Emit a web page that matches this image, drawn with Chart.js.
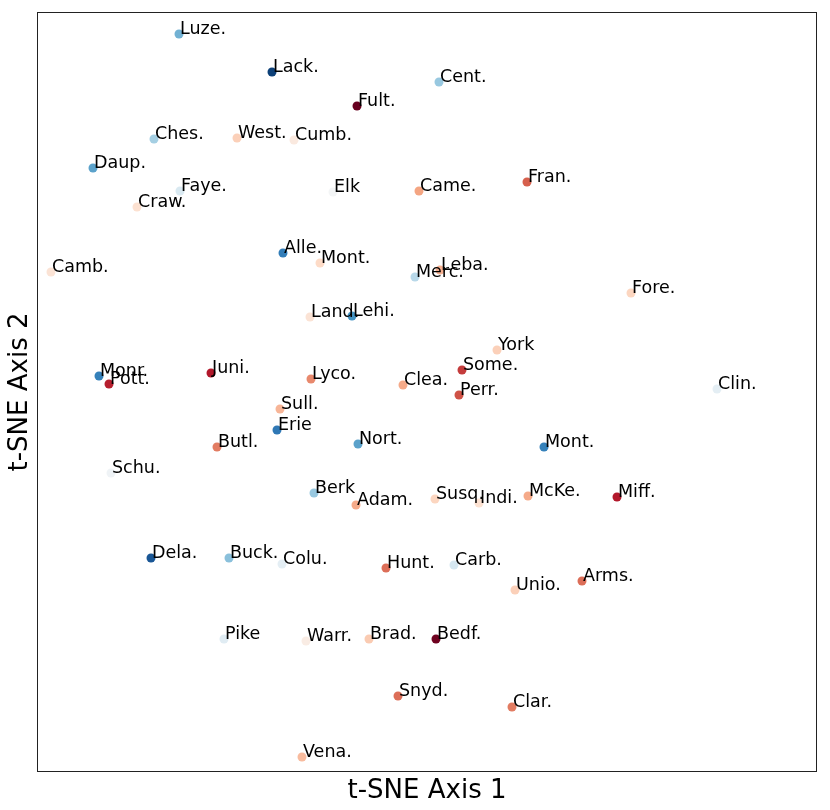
<!DOCTYPE html>
<html>
<head>
<meta charset="utf-8">
<script src="https://cdn.jsdelivr.net/npm/chart.js@4.4.1/dist/chart.umd.min.js"></script>
<style>
    html, body { margin: 0; padding: 0; background: #fff; }
    #wrap { width: 830px; height: 810px; }
</style>
</head>
<body>
<div id="wrap"><canvas id="chartTsne" width="830" height="810"></canvas></div>
<script>
// t-SNE embedding of counties, colour = value on the RdBu scale (0 = red, 1 = blue)
const names = ['Luze.', 'Lack.', 'Cent.', 'Fult.', 'Ches.', 'West.', 'Cumb.', 'Daup.', 'Fran.', 'Came.',
    'Elk', 'Faye.', 'Craw.', 'Camb.', 'Alle.', 'Mont.', 'Merc.', 'Leba.', 'Fore.', 'Land.',
    'Lehi.', 'York', 'Some.', 'Juni.', 'Monr.', 'Pott.', 'Lyco.', 'Clea.', 'Perr.', 'Clin.',
    'Sull.', 'Erie', 'Butl.', 'Nort.', 'Mont.', 'Schu.', 'Berk', 'Adam.', 'Susq.', 'Indi.',
    'McKe.', 'Miff.', 'Dela.', 'Buck.', 'Colu.', 'Hunt.', 'Carb.', 'Unio.', 'Arms.', 'Pike',
    'Warr.', 'Brad.', 'Bedf.', 'Snyd.', 'Clar.', 'Vena.'];

const axis1 = [-24.8, -15.5, 1.2, -7.0, -27.3, -19.0, -13.3, -33.4, 10.0, -0.8,
    -9.4, -24.7, -29.0, -37.6, -14.4, -10.7, -1.2, 1.3, 20.4, -11.7,
    -7.5, 7.0, 3.5, -21.6, -32.8, -31.8, -11.6, -2.4, 3.2, 29.0,
    -14.7, -15.0, -21.0, -6.9, 11.7, -31.6, -11.3, -7.1, 0.8, 5.2,
    10.1, 19.0, -27.6, -19.8, -14.5, -4.1, 2.7, 8.8, 15.5, -20.3,
    -12.1, -5.8, 0.9, -2.9, 8.5, -12.5];

const axis2 = [35.8, 32.0, 31.0, 28.6, 25.3, 25.4, 25.2, 22.4, 21.0, 20.1,
    20.0, 20.1, 18.5, 12.0, 13.9, 12.9, 11.5, 12.2, 9.9, 7.5,
    7.6, 4.2, 2.2, 1.9, 1.6, 0.8, 1.3, 0.7, -0.3, 0.3,
    -1.7, -3.8, -5.5, -5.2, -5.5, -8.1, -10.1, -11.3, -10.7, -11.1,
    -10.4, -10.5, -16.6, -16.6, -17.2, -17.6, -17.3, -19.8, -18.9, -24.7,
    -24.9, -24.7, -24.7, -30.4, -31.5, -36.5];

const colorValue = [0.74, 0.97, 0.69, 0.0, 0.67, 0.38, 0.45, 0.77, 0.2, 0.3,
    0.51, 0.58, 0.42, 0.43, 0.85, 0.40, 0.64, 0.32, 0.39, 0.43,
    0.8, 0.38, 0.15, 0.1, 0.84, 0.11, 0.26, 0.31, 0.18, 0.55,
    0.33, 0.86, 0.24, 0.77, 0.84, 0.52, 0.69, 0.31, 0.39, 0.42,
    0.31, 0.1, 0.93, 0.71, 0.55, 0.22, 0.59, 0.38, 0.22, 0.56,
    0.46, 0.37, 0.01, 0.22, 0.24, 0.34];

const rdbu = ['#67001f', '#b2182b', '#d6604d', '#f4a582', '#fddbc7', '#f7f7f7',
    '#d1e5f0', '#92c5de', '#4393c3', '#2166ac', '#053061'];

function hexToRgb(h) {
    return [parseInt(h.slice(1, 3), 16), parseInt(h.slice(3, 5), 16), parseInt(h.slice(5, 7), 16)];
}

function rdbuColor(v) {
    const t = Math.min(Math.max(v, 0), 1) * (rdbu.length - 1);
    const i = Math.min(Math.floor(t), rdbu.length - 2);
    const f = t - i;
    const a = hexToRgb(rdbu[i]);
    const b = hexToRgb(rdbu[i + 1]);
    const c = a.map((x, k) => Math.round(x + (b[k] - x) * f));
    return 'rgb(' + c.join(',') + ')';
}

const points = axis1.map((x, i) => ({ x: x, y: axis2[i] }));

// labels, frame and axis titles drawn in matplotlib style
const annotatePlugin = {
    id: 'annotate',
    afterDatasetsDraw(chart) {
        const ctx = chart.ctx;
        const meta = chart.getDatasetMeta(0);
        const area = chart.chartArea;
        ctx.save();
        ctx.fillStyle = '#000';
        ctx.font = '17.5px "DejaVu Sans"';
        ctx.textAlign = 'left';
        ctx.textBaseline = 'alphabetic';
        meta.data.forEach((pt, i) => {
            ctx.fillText(names[i], pt.x + 1, pt.y);
        });

        ctx.strokeStyle = '#222';
        ctx.lineWidth = 1;
        ctx.strokeRect(area.left + 0.5, area.top + 0.5, area.right - area.left - 1, area.bottom - area.top - 1);

        ctx.font = '26px "DejaVu Sans"';
        ctx.textAlign = 'center';
        ctx.textBaseline = 'alphabetic';
        ctx.fillText('t-SNE Axis 1', (area.left + area.right) / 2, area.bottom + 26);

        ctx.translate(area.left - 10, (area.top + area.bottom) / 2);
        ctx.rotate(-Math.PI / 2);
        ctx.fillText('t-SNE Axis 2', 0, 0);
        ctx.restore();
    }
};

const ctxTsne = document.getElementById('chartTsne');
if (ctxTsne) {
    new Chart(ctxTsne, {
        type: 'scatter',
        data: {
            datasets: [{
                data: points,
                backgroundColor: colorValue.map(rdbuColor),
                borderWidth: 0,
                pointRadius: 4.5,
                pointHoverRadius: 4.5
            }]
        },
        options: {
            responsive: false,
            animation: false,
            layout: {
                padding: { left: 37, right: 13, top: 12, bottom: 38 }
            },
            plugins: {
                legend: { display: false },
                tooltip: { enabled: false }
            },
            scales: {
                x: {
                    display: false,
                    min: -39,
                    max: 39
                },
                y: {
                    display: false,
                    min: -38,
                    max: 38
                }
            }
        },
        plugins: [annotatePlugin]
    });
}
</script>
</body>
</html>
